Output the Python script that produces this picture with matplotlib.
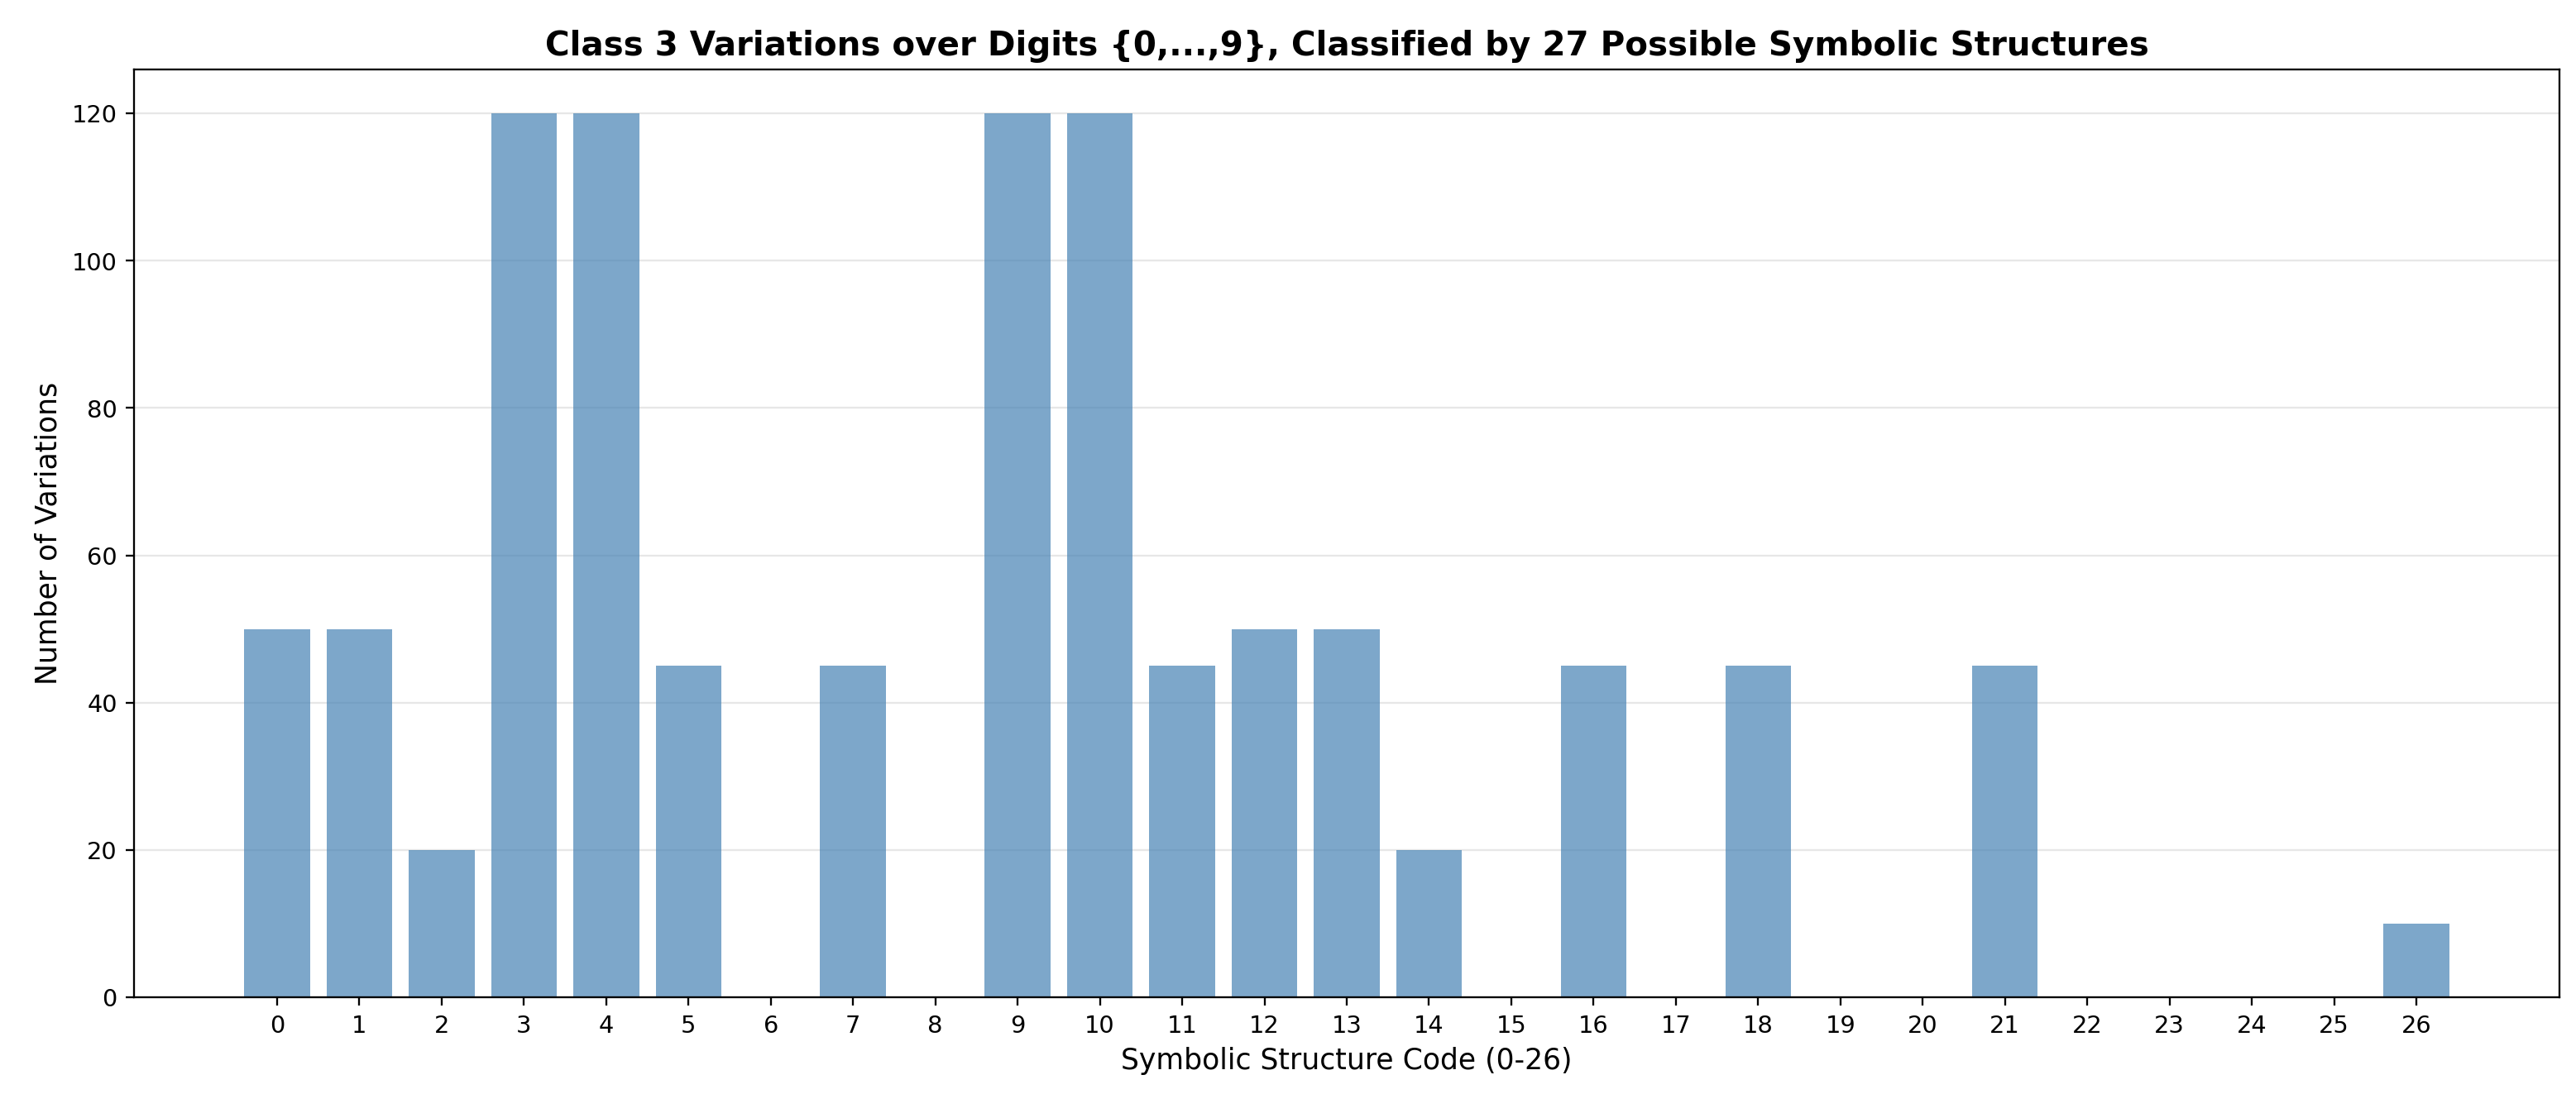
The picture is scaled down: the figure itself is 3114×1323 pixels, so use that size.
import matplotlib
matplotlib.use('Agg')
import matplotlib.pyplot as plt

# structure codes 0..26 and how many variations fall in each
codes = list(range(27))
counts = [50, 50, 20, 120, 120, 45, 0, 45, 0, 120,
          120, 45, 50, 50, 20, 0, 45, 0, 45, 0,
          0, 45, 0, 0, 0, 0, 10]

fig, ax = plt.subplots(figsize=(15, 6.375), dpi=207.6)
ax.bar(codes, counts, color='steelblue', alpha=0.7)
ax.set_xticks(codes)
ax.set_xlabel('Symbolic Structure Code (0-26)', fontsize=12)
ax.set_ylabel('Number of Variations', fontsize=12)
ax.set_title('Class 3 Variations over Digits {0,...,9}, Classified by 27 Possible Symbolic Structures',
             fontsize=14, fontweight='bold')
ax.grid(axis='y', alpha=0.3)
ax.set_axisbelow(True)
fig.subplots_adjust(left=0.052, right=0.9936, top=0.9365, bottom=0.0884)
plt.savefig('out.png', dpi=207.6)
